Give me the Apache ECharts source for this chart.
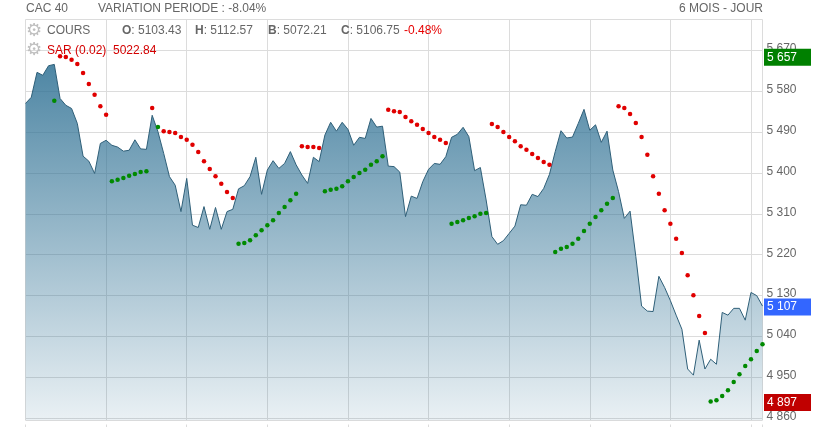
<!DOCTYPE html>
<html><head><meta charset="utf-8">
<style>html,body{margin:0;padding:0;background:#fff}#c{width:828px;height:427px}</style>
<script src="https://cdn.jsdelivr.net/npm/echarts@6/dist/echarts.min.js"></script>
</head><body><div id="c"></div>
<script>
const closes = [5553,5566.5,5621.5,5615,5636,5639,5564,5549,5542,5509,5437,5426,5399,5465,5472,5461,5457,5448,5450,5473,5453,5452,5527,5491,5443,5392,5373,5315,5388,5285,5280,5326,5276,5324,5276,5315,5320,5365,5372,5392,5434.5,5353,5406.5,5427,5410,5421,5447,5418,5395.5,5377,5434.5,5425,5483.5,5511.5,5492,5511.5,5496,5461,5478.5,5476,5520,5501,5503,5415,5414,5402,5304,5349,5344,5381,5408,5421,5419,5436,5478.5,5485,5500.5,5480,5405,5412,5340.5,5260,5243,5251,5267,5283,5330,5329,5353,5348,5366,5397,5447,5493,5477,5479,5509,5540,5494,5506,5467.5,5492,5406.5,5359,5300,5316,5216,5107,5096,5095,5172.5,5148,5119,5087,5056,4968.5,4955,5032,4968.5,4990,4979,5093,5087,5102,5102,5076,5137,5130,5107];
const sarRed = [[6,5657],[7,5655],[8,5649],[9,5640],[10,5620],[11,5596],[12,5572],[13,5547],[14,5528],[22,5543],[24,5492],[25,5490],[26,5488],[27,5479],[28,5473],[29,5462],[30,5446],[31,5426],[32,5409],[33,5393],[34,5376],[35,5358],[36,5345],[48,5459],[49,5457],[50,5457],[51,5455],[63,5539],[64,5536],[65,5534],[66,5523],[67,5514],[68,5506],[69,5497],[70,5488],[71,5479],[72,5473],[73,5466],[81,5508],[82,5501],[83,5490],[84,5479],[85,5470],[86,5459],[87,5451],[88,5442],[89,5433],[90,5424],[91,5418],[103,5547],[104,5543],[105,5530],[106,5510],[107,5479],[108,5440],[109,5393],[110,5354],[111,5318],[112,5288],[113,5255],[114,5224],[115,5175],[116,5131],[117,5085],[118,5048]];
const sarGreen = [[5,5559],[15,5382],[16,5385],[17,5389],[18,5394],[19,5398],[20,5402],[21,5404],[23,5501],[37,5244],[38,5246],[39,5252],[40,5263],[41,5274],[42,5285],[43,5296],[44,5312],[45,5325],[46,5340],[47,5354],[52,5360],[53,5363],[54,5365],[55,5371],[56,5382],[57,5391],[58,5400],[59,5407],[60,5418],[61,5426],[62,5437],[74,5288],[75,5292],[76,5296],[77,5301],[78,5305],[79,5310],[80,5312],[92,5226],[93,5233],[94,5237],[95,5244],[96,5255],[97,5272],[98,5288],[99,5303],[100,5318],[101,5332],[102,5345],[119,4897],[120,4900],[121,4909],[122,4922],[123,4940],[124,4957],[125,4975],[126,4990],[127,5008],[128,5023]];
const yTickLabels = [4860,4950,5040,5130,5220,5310,5400,5490,5580,5670];
const yLow = 4855.6, yHigh = 5737.8, lastIndex = 128, xStep = 14;
const sarHighLabel = 5657, sarLowLabel = 4897, lastClose = 5107;
const fmt = v => { const s = String(Math.round(v)); return s.slice(0, s.length-3) + ' ' + s.slice(-3); };
const GRID = '#dcdcdc', TXT = '#666', FONT = 'Arial, "Liberation Sans", sans-serif';
const tag = (value, color) => ({
  coord:[lastIndex, value], symbol:'rect', symbolSize:[47,17], symbolOffset:[25,1],
  itemStyle:{color},
  label:{show:true, position:'insideLeft', distance:3, color:'#fff', fontSize:12, fontFamily:FONT, formatter:fmt(value)}
});
const txt = (x,y,text,fill,extra) => ({type:'text', z:20, silent:true, style:Object.assign({x,y,text,fill:fill||TXT,font:'12px '+FONT,verticalAlign:'middle'},extra||{})});
const boldRich = {rich:{b:{fontWeight:'bold',fontSize:12,fontFamily:FONT,fill:TXT,color:TXT}}};
const chart = echarts.init(document.getElementById('c'), null, {renderer:'canvas'});
chart.setOption({
  animation:false,
  backgroundColor:'#fff',
  grid:[
    {left:25.5, top:19.5, width:737, height:400.8},
    {left:25.5, top:424.5, width:737, height:40}
  ],
  xAxis:[
    {type:'value', gridIndex:0, min:0, max:lastIndex, interval:xStep, axisLine:{show:false}, axisTick:{show:false}, axisLabel:{show:false}, splitLine:{show:true, lineStyle:{color:GRID,width:1}}},
    {type:'value', gridIndex:1, min:0, max:lastIndex, interval:xStep, position:'top', axisLine:{show:true,lineStyle:{color:GRID}}, axisTick:{show:false}, axisLabel:{show:false}, splitLine:{show:true, lineStyle:{color:GRID,width:1}}}
  ],
  yAxis:[
    {type:'value', gridIndex:0, position:'right', min:yLow, max:yHigh,
     axisLine:{show:false},
     axisTick:{show:false, customValues:[yLow].concat(yTickLabels,[yHigh])},
     axisLabel:{show:true, customValues:yTickLabels, color:TXT, fontSize:12, fontFamily:FONT, margin:4, verticalAlign:'bottom', lineHeight:3, formatter:fmt},
     splitLine:{show:true, lineStyle:{color:GRID,width:1}}},
    {type:'value', gridIndex:1, min:0, max:1, show:false, splitLine:{show:false}}
  ],
  series:[
    {name:'COURS', type:'line', xAxisIndex:0, yAxisIndex:0, data:closes.map((v,i)=>[i,v]), symbol:'none', smooth:false, z:3,
     lineStyle:{color:'#2f5f78',width:1},
     areaStyle:{origin:'start', opacity:1, color:{type:'linear',x:0,y:0,x2:0,y2:1,colorStops:[{offset:0,color:'rgba(47,113,148,0.85)'},{offset:1,color:'rgba(47,113,148,0.1)'}]}}},
    {name:'SAR haut', type:'scatter', xAxisIndex:0, yAxisIndex:0, data:sarRed, symbolSize:4.5, z:5, clip:false, itemStyle:{color:'#e00000',opacity:1}},
    {name:'SAR bas', type:'scatter', xAxisIndex:0, yAxisIndex:0, data:sarGreen, symbolSize:4.5, z:5, clip:false, itemStyle:{color:'#008a00',opacity:1},
     markPoint:{silent:true, animation:false, z:10, data:[tag(sarHighLabel,'#008000'), tag(lastClose,'#3366ff'), tag(sarLowLabel,'#c00000')]}}
  ],
  graphic:[
    txt(26,8.5,'CAC 40'),
    txt(98,8.5,'VARIATION PERIODE : -8.04%'),
    txt(763,8.5,'6 MOIS - JOUR',TXT,{align:'right'}),
    txt(26,31,'\u2699','#c0c0c0',{font:'18px "DejaVu Sans"'}),
    txt(26,50,'\u2699','#c0c0c0',{font:'18px "DejaVu Sans"'}),
    txt(47,30.5,'COURS'),
    txt(122,30.5,'{b|O}: 5103.43',TXT,boldRich),
    txt(195,30.5,'{b|H}: 5112.57',TXT,boldRich),
    txt(268,30.5,'{b|B}: 5072.21',TXT,boldRich),
    txt(341,30.5,'{b|C}: 5106.75',TXT,boldRich),
    txt(404,30.5,'-0.48%','#e60000'),
    txt(47,50.5,'SAR (0.02)  5022.84','#d40000')
  ]
});
</script></body></html>
